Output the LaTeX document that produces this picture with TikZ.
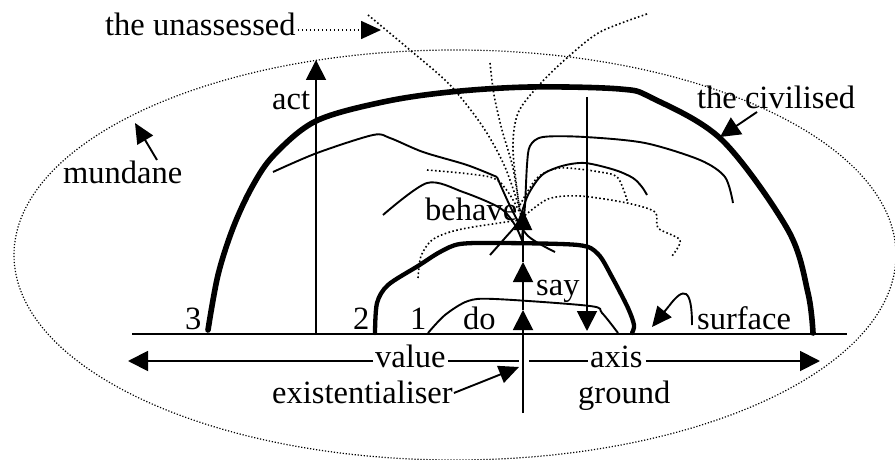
\documentclass[tikz,border=0pt]{standalone}
\usepackage{fontspec}
\setmainfont{Liberation Serif}
\usetikzlibrary{arrows.meta}
\begin{document}
\begin{tikzpicture}[x=1pt,y=-1pt,
  lbl/.style={inner sep=0pt, anchor=base west, font=\fontsize{32.5}{38}\selectfont},
  fine/.style={line width=1.9pt},
  heavy/.style={line width=5.6pt, line cap=round, line join=round},
  mid/.style={line width=4.3pt, line cap=round, line join=round},
  dots/.style={line width=1.6pt, dash pattern=on 1.6pt off 2.4pt},
  edots/.style={line width=1.2pt, dash pattern=on 1.2pt off 1.8pt},
  arr/.style={-{Triangle[width=20pt,length=20pt]}},
  sarr/.style={-{Triangle[width=18pt,length=20pt]}}]
\useasboundingbox (0,0) rectangle (895,460);

% outer dotted ellipse
\draw[edots] (455,255) ellipse [x radius=441pt, y radius=205pt];

% labels
\node[lbl] (unass) at (105,36) {the unassessed};
\node[lbl] (act) at (272,110) {act};
\node[lbl] (mundane) at (63,183) {mundane};
\node[lbl] (behave) at (425,220) {behave};
\node[lbl] (civil) at (697,108) {the civilised};
\node[lbl] (three) at (185,329) {3};
\node[lbl] (two) at (353,329) {2};
\node[lbl] (one) at (410,329) {1};
\node[lbl] (do) at (463,329) {do};
\node[lbl] (say) at (536,295) {say};
\node[lbl] (surface) at (697,329) {surface};
\node[lbl] (value) at (375,367) {value};
\node[lbl] (axis) at (590,367) {axis};
\node[lbl] (exist) at (272,403) {existentialiser};
\node[lbl] (ground) at (578,403) {ground};

% coordinates
\coordinate (axL) at (132,334);
\coordinate (axR) at (847,334);
\coordinate (uaS) at ([shift={(2,-6)}]unass.base east);
\coordinate (uaT) at (381,30);
\coordinate (actB) at (316,334);
\coordinate (actT) at (316,60);
\coordinate (munS) at (157,160);
\coordinate (munT) at (135,123);
\coordinate (civS) at (757,112);
\coordinate (civT) at (720,137);
\coordinate (vlT) at (128,361);
\coordinate (vlE) at (519,361);
\coordinate (axS) at (529,361);
\coordinate (arT) at (820,361);
\coordinate (exS) at ([shift={(1,-10)}]exist.base east);
\coordinate (exT) at (519,367);
\coordinate (cB) at (523,413);
\coordinate (doT) at (523,310);
\coordinate (sayT) at (523,262);
\coordinate (behT) at (523,210);
\coordinate (dnS) at (587,97);
\coordinate (dnT) at (587,331);
\coordinate (sfS) at (692,325);
\coordinate (sfM) at (669,306);
\coordinate (sfT) at (652,327);

% ground axis
\draw[line width=1.9pt] (axL) -- (axR);

% thick curves
\draw[heavy] plot[smooth, tension=0.55] coordinates {(208,330) (218,275) (233,228) (252,187) (274,155) (316,121) (383,102) (450,92) (530,87) (620,89) (652,98) (722,140) (788,230) (808,293) (813,333)};
\draw[mid] plot[smooth, tension=0.5] coordinates {(375,333) (377,303) (388,285) (418,266) (440,252) (460,244) (500,243) (578,245) (598,254) (612,277) (628,308) (634,325) (632,333)};

% thin solid curves
\draw[fine] plot[smooth, tension=0.5] coordinates {(428,333) (445,315) (468,301) (495,299) (590,306) (602,313) (618,333)};
\draw[fine] plot[smooth, tension=0.5] coordinates {(273,172) (317,153) (373,135) (390,138) (423,152) (467,165) (497,177)};
\draw[fine] plot[smooth, tension=0.5] coordinates {(497,177) (512,210) (528,236) (555,252)};
\draw[fine] plot[smooth, tension=0.5] coordinates {(383,215) (427,183) (463,192) (500,208) (515,225) (523,243)};
\draw[fine] plot[smooth, tension=0.5] coordinates {(490,255) (505,238) (518,222) (528,195) (542,175) (562,166) (585,163) (615,170) (633,178) (642,187) (647,195)};
\draw[fine] plot[smooth, tension=0.5] coordinates {(522,238) (525,205) (527,165) (530,146) (543,137) (585,137) (645,143) (700,160) (725,177) (733,203)};

% dotted curves
\draw[dots] plot[smooth, tension=0.5] coordinates {(368,15) (410,50) (450,85) (483,127) (505,167) (521,213)};
\draw[dots] plot[smooth, tension=0.5] coordinates {(490,63) (494,95) (502,130) (513,168) (520,212)};
\draw[dots] plot[smooth, tension=0.5] coordinates {(647,14) (600,32) (568,57) (540,84) (518,113) (513,150) (520,212)};
\draw[dots] plot[smooth, tension=0.5] coordinates {(427,170) (490,177) (508,192) (521,215)};
\draw[dots] plot[smooth, tension=0.5] coordinates {(418,278) (421,256) (432,240) (450,232) (473,227) (520,220)};
\draw[dots] plot[smooth, tension=0.5] coordinates {(522,218) (548,199) (580,196) (627,203) (655,212) (658,228) (680,240) (672,256)};
\draw[dots] plot[smooth, tension=0.5] coordinates {(520,205) (537,178) (560,168) (600,172) (618,178) (628,203)};

% arrows
\draw[dots, sarr] (uaS) -- (uaT);
\draw[fine, arr] (actB) -- (actT);
\draw[fine, sarr] (munS) -- (munT);
\draw[fine, arr] (civS) -- (civT);
\draw[fine, arr] ([xshift=-2pt]value.base west) ++(0,-6) -- (vlT);
\draw[fine] ([shift={(2,-6)}]value.base east) -- (vlE);
\draw[fine] (axS) -- ([shift={(-2,-6)}]axis.base west);
\draw[fine, arr] ([shift={(3,-6)}]axis.base east) -- (arT);
\draw[fine, sarr] (exS) -- (exT);
\draw[fine, arr] (cB) -- (doT);
\draw[fine, arr] (doT) -- (sayT);
\draw[fine, sarr] (sayT) -- (behT);
\draw[fine, arr] (dnS) -- (dnT);
\draw[fine] (sfS) .. controls (692,288) and (684,286) .. (sfM);
\draw[fine, sarr] (sfM) -- (sfT);
\end{tikzpicture}
\end{document}
